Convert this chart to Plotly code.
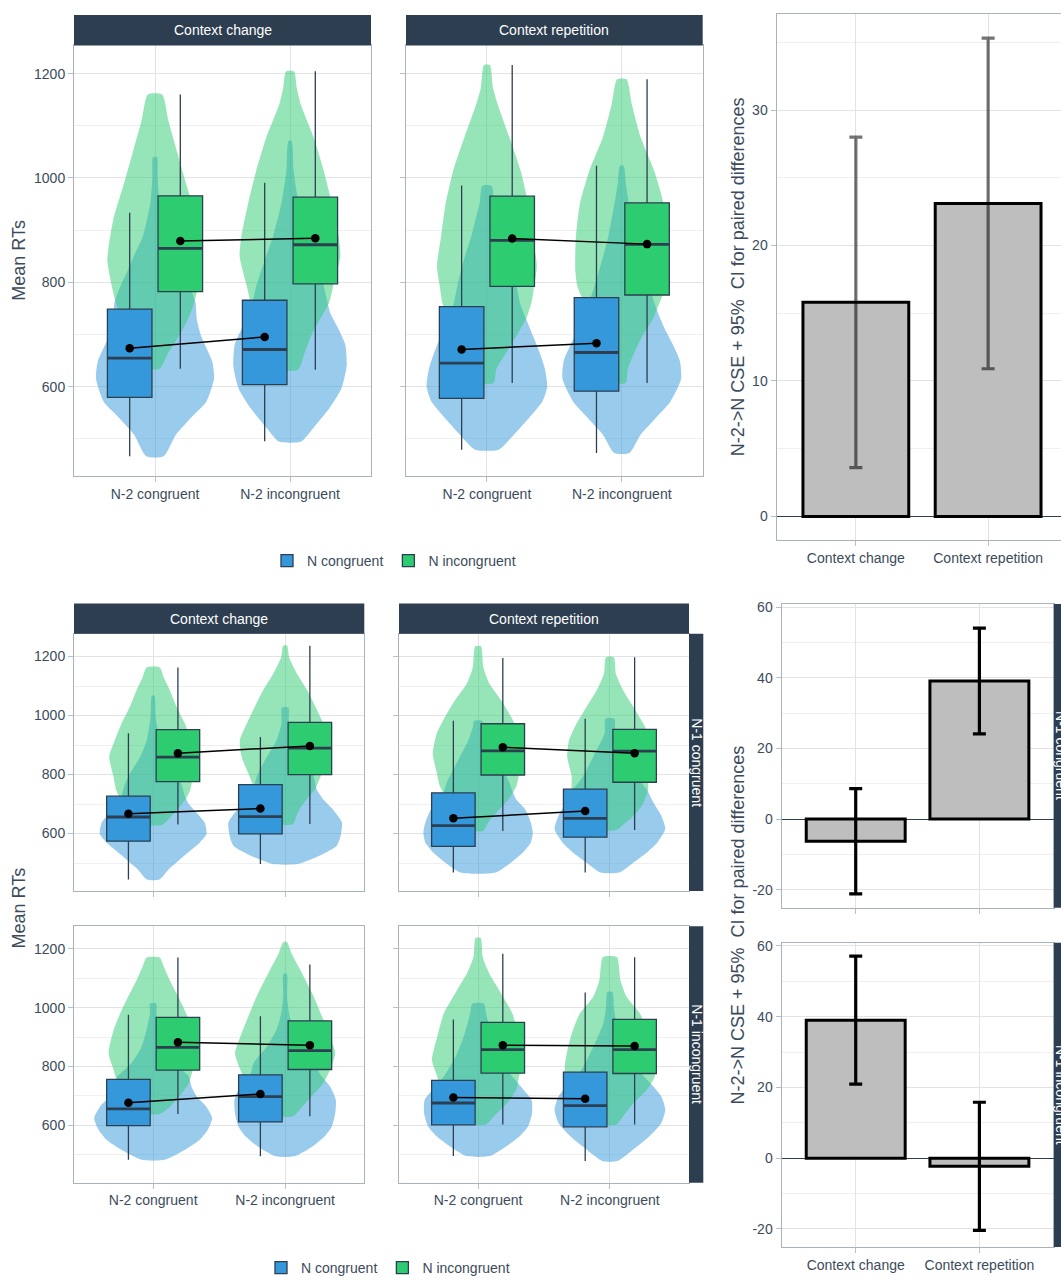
import plotly.graph_objects as go

# ------------------------------------------------------------------
# Factor levels / labels
# ------------------------------------------------------------------
n2_levels = ["N-2 congruent", "N-2 incongruent"]
n_levels = ["N congruent", "N incongruent"]
contexts = ["Context change", "Context repetition"]
n1_levels = ["N-1 congruent", "N-1 incongruent"]

# ------------------------------------------------------------------
# Box-plot summaries of mean RTs (ms)
# rows: all CC, all CR, N-1 cong CC, N-1 cong CR, N-1 incong CC, N-1 incong CR
# columns: N-2 congruent, N-2 incongruent
# ------------------------------------------------------------------
ncong_q1 = [[579.4, 604.1], [577.5, 591.4], [574.2, 598.8], [556.4, 587.6], [599.3, 611.7], [601.6, 594.8]]
ncong_med = [[654.7, 671.2], [645.2, 665.5], [656.0, 657.0], [627.0, 651.5], [655.7, 697.4], [676.0, 666.9]]
ncong_q3 = [[748.5, 765.6], [753.5, 770.6], [726.7, 766.0], [738.1, 750.3], [756.0, 771.7], [752.6, 780.8]]
ncong_lo = [[466.6, 495.2], [479.3, 473.0], [444.0, 496.7], [467.6, 467.6], [483.2, 494.5], [495.6, 478.7]]
ncong_hi = [[933.4, 991.0], [985.3, 1023.3], [939.8, 927.4], [982.4, 989.0], [975.7, 971.2], [960.0, 1051.2]]
ncong_mean = [[673.7, 695.3], [671.2, 683.2], [667.2, 685.0], [651.8, 676.2], [677.0, 706.4], [695.0, 690.6]]

nincong_q1 = [[782.0, 797.2], [792.2, 775.7], [776.0, 799.6], [798.5, 773.8], [787.5, 789.8], [777.4, 776.2]]
nincong_med = [[865.0, 872.0], [880.2, 872.6], [859.0, 889.3], [880.3, 879.2], [865.3, 854.0], [857.4, 857.4]]
nincong_q3 = [[965.7, 963.1], [965.0, 952.4], [952.1, 976.8], [972.3, 953.3], [966.7, 955.4], [949.8, 960.0]]
nincong_lo = [[634.5, 632.6], [607.2, 607.2], [630.2, 632.4], [609.0, 612.3], [638.8, 630.9], [602.7, 602.7]]
nincong_hi = [[1160.0, 1204.4], [1216.5, 1189.2], [1163.0, 1237.0], [1195.5, 1197.8], [1170.7, 1147.0], [1183.0, 1171.8]]
nincong_mean = [[879.0, 884.6], [884.0, 873.2], [872.5, 897.2], [892.7, 872.5], [882.2, 872.0], [872.0, 869.8]]

# ------------------------------------------------------------------
# Violin density profiles: (RT, half-width in category units)
# order in each panel: N cong @ N-2 cong, N cong @ N-2 incong,
#                      N incong @ N-2 cong, N incong @ N-2 incong
# ------------------------------------------------------------------
violins_all_cc = [
    [(466.6, 0.064), (508, 0.155), (540, 0.265), (571, 0.38), (615, 0.437), (647, 0.425), (698, 0.34),
     (729, 0.31), (761, 0.30), (790, 0.26), (824, 0.20), (860, 0.14), (888, 0.09), (951, 0.035),
     (1000, 0.02), (1040, 0.015)],
    [(495, 0.083), (520, 0.17), (558, 0.29), (596, 0.38), (640, 0.42), (680, 0.41), (710, 0.36),
     (740, 0.30), (770, 0.27), (793, 0.25), (840, 0.19), (888, 0.126), (951, 0.064), (1014, 0.027),
     (1071, 0.012)],
    [(634.5, 0.035), (666, 0.10), (698, 0.18), (730, 0.245), (761, 0.29), (793, 0.32), (843, 0.353),
     (919, 0.31), (983, 0.237), (1046, 0.168), (1109, 0.10), (1160, 0.053)],
    [(632.6, 0.06), (666, 0.11), (698, 0.158), (729, 0.22), (761, 0.29), (793, 0.32), (850, 0.373),
     (888, 0.36), (951, 0.31), (1014, 0.25), (1078, 0.175), (1141, 0.08), (1173, 0.05), (1204, 0.03)],
]
violins_all_cr = [
    [(479.3, 0.087), (508, 0.2), (539.5, 0.31), (571, 0.41), (600, 0.447), (634.5, 0.43), (666, 0.39),
     (698, 0.34), (730, 0.29), (761, 0.245), (793, 0.22), (825, 0.19), (857, 0.155), (888, 0.116),
     (920, 0.085), (951, 0.054), (985, 0.035)],
    [(473, 0.056), (508, 0.14), (539.5, 0.25), (571, 0.36), (615, 0.44), (650, 0.43), (680, 0.38),
     (710, 0.32), (740, 0.27), (770, 0.23), (825, 0.165), (888, 0.10), (951, 0.054), (990, 0.03),
     (1023, 0.015)],
    [(607, 0.05), (634.5, 0.07), (666, 0.145), (698, 0.22), (730, 0.29), (761, 0.33), (793, 0.35),
     (831, 0.37), (888, 0.34), (951, 0.306), (1014, 0.25), (1078, 0.167), (1141, 0.08), (1173, 0.045),
     (1216.5, 0.022)],
    [(607, 0.03), (634.5, 0.045), (666, 0.094), (698, 0.155), (729.5, 0.23), (761, 0.28), (793, 0.33),
     (824.5, 0.345), (888, 0.34), (951, 0.31), (1014, 0.24), (1078, 0.14), (1141, 0.075), (1189, 0.035)],
]
violins_n1c_cc = [
    [(444, 0.047), (480, 0.12), (525, 0.235), (570, 0.354), (598, 0.404), (637, 0.39), (670, 0.33),
     (700, 0.27), (727, 0.24), (760, 0.22), (803, 0.177), (859, 0.10), (915, 0.05), (994, 0.02),
     (1067, 0.01)],
    [(496.7, 0.095), (525, 0.26), (558, 0.39), (592, 0.42), (637, 0.43), (682, 0.36), (715, 0.29),
     (749, 0.24), (792, 0.217), (859, 0.14), (915, 0.066), (971, 0.028), (1027, 0.025)],
    [(630, 0.07), (660, 0.14), (691, 0.20), (720, 0.25), (747, 0.28), (792, 0.30), (861, 0.333),
     (917, 0.29), (973, 0.24), (1030, 0.177), (1086, 0.126), (1130, 0.08), (1163, 0.05)],
    [(632, 0.06), (665, 0.09), (693, 0.124), (720, 0.17), (749, 0.225), (805, 0.28), (861, 0.33),
     (917, 0.343), (973, 0.29), (1030, 0.23), (1086, 0.167), (1142, 0.09), (1198, 0.03), (1237, 0.015)],
]
violins_n1c_cr = [
    [(467.6, 0.133), (502, 0.25), (536, 0.34), (570, 0.40), (603, 0.415), (637, 0.40), (682, 0.357),
     (715, 0.29), (749, 0.255), (771, 0.24), (815, 0.19), (861, 0.137), (917, 0.073), (960, 0.04),
     (982, 0.03)],
    [(467.6, 0.07), (502, 0.18), (536, 0.28), (570, 0.36), (615, 0.42), (660, 0.39), (705, 0.33),
     (749, 0.28), (790, 0.21), (861, 0.126), (940, 0.04), (989, 0.035)],
    [(609, 0.04), (640, 0.08), (671, 0.14), (715, 0.23), (760, 0.29), (805, 0.313), (872, 0.344),
     (940, 0.313), (996, 0.25), (1052, 0.175), (1108, 0.086), (1164, 0.04), (1235, 0.022)],
    [(612, 0.05), (637, 0.12), (670, 0.2), (700, 0.25), (749, 0.29), (794, 0.29), (861, 0.324),
     (917, 0.31), (973, 0.253), (1030, 0.177), (1086, 0.1), (1142, 0.045), (1198, 0.03)],
]
violins_n1i_cc = [
    [(483.2, 0.088), (518, 0.245), (552, 0.355), (586, 0.415), (625, 0.447), (665, 0.40), (698, 0.33),
     (732, 0.29), (766, 0.27), (811, 0.164), (867, 0.088), (924, 0.05), (980, 0.025), (1014, 0.023)],
    [(494.5, 0.07), (529, 0.21), (563, 0.30), (597, 0.355), (642, 0.38), (687, 0.384), (732, 0.34),
     (777, 0.26), (811, 0.24), (867, 0.14), (924, 0.066), (980, 0.03), (1037, 0.015), (1115, 0.013)],
    [(638.8, 0.05), (660, 0.12), (698.5, 0.20), (744, 0.27), (789, 0.30), (845, 0.338), (924, 0.30),
     (980, 0.25), (1037, 0.19), (1093, 0.126), (1140, 0.08), (1170.7, 0.05)],
    [(630.9, 0.06), (653, 0.11), (698.5, 0.2), (744, 0.29), (789, 0.34), (845, 0.38), (901, 0.34),
     (958, 0.29), (1037, 0.217), (1127, 0.116), (1183, 0.05), (1222.5, 0.015)],
]
violins_n1i_cr = [
    [(495.6, 0.088), (529, 0.215), (563, 0.315), (597, 0.38), (642, 0.41), (687, 0.405), (721, 0.345),
     (766, 0.26), (834, 0.17), (901, 0.11), (980, 0.06), (1014, 0.045)],
    [(478.7, 0.057), (518, 0.177), (563, 0.30), (608, 0.39), (653, 0.42), (698, 0.39), (732, 0.33),
     (789, 0.215), (867, 0.126), (946, 0.05), (1000, 0.03), (1053, 0.02)],
    [(602.7, 0.06), (631, 0.12), (676, 0.22), (721, 0.29), (766, 0.31), (822.5, 0.35), (901, 0.31),
     (980, 0.26), (1059, 0.16), (1115, 0.086), (1172, 0.035), (1237, 0.02)],
    [(602.7, 0.05), (631, 0.1), (676, 0.18), (721, 0.28), (766, 0.34), (811, 0.34), (867, 0.316),
     (924, 0.28), (980, 0.228), (1037, 0.126), (1093, 0.08), (1172, 0.053)],
]

# ------------------------------------------------------------------
# N-2 -> N congruency sequence effects with 95% CI half-widths
# ------------------------------------------------------------------
cse_all = [15.8, 23.1]
ci_all = [12.2, 12.2]
cse_n1_cong = [-6.3, 39.1]
ci_n1_cong = [14.9, 15.0]
cse_n1_incong = [39.0, -2.3]
ci_n1_incong = [18.1, 18.1]

# ------------------------------------------------------------------
# Styling / geometry
# ------------------------------------------------------------------
W, H = 1061, 1284
FONT = "Liberation Sans, Arial, sans-serif"
DARK = "#2c3e50"
TEXT = "#3b4b5c"
BLUE = "#3498db"
GREEN = "#2ecc71"
BLUE_V = "rgba(52,152,219,0.5)"
GREEN_V = "rgba(46,204,113,0.5)"
GRID = "#e3e3e3"
GRID_MINOR = "#efefef"
BORDER = "#aab3bd"
TICK = "#b9c0c8"
DODGE = 0.1875
BOX_W = 0.33


def fx(p):
    return p / W


def fy(p):
    return 1 - p / H


def ax_name(k, letter):
    return letter + ("" if k == 1 else str(k))


def layout_key(k, letter):
    return letter + "axis" + ("" if k == 1 else str(k))


tick_style = dict(ticks="outside", ticklen=5, tickwidth=1, tickcolor=TICK,
                  tickfont=dict(size=14, color=TEXT))

panel_px = [
    (74.0, 371.0, 40.7, 474.5),
    (406.0, 702.7, 40.7, 474.5),
    (74.0, 364.3, 633.3, 892.3),
    (399.0, 689.0, 633.3, 892.3),
    (74.0, 364.3, 927.7, 1186.0),
    (399.0, 689.0, 927.7, 1186.0),
]
panel_yrange = [[428.5, 1254.0]] * 2 + [[405.0, 1277.0]] * 4
panel_show_y = [True, False, True, False, True, False]
panel_show_x = [True, True, False, False, True, True]
panel_legend = ["legend", None, "legend2", None, None, None]
violin_sets = [violins_all_cc, violins_all_cr, violins_n1c_cc, violins_n1c_cr,
               violins_n1i_cc, violins_n1i_cr]

fig = go.Figure()
layout_axes = {}

for i in range(6):
    k = i + 1
    ov = i + 7
    xr = ax_name(k, "x")
    yr = ax_name(k, "y")
    yov = ax_name(ov, "y")
    l, r, t, b = panel_px[i]

    # violins (base layer)
    for idx, prof in enumerate(violin_sets[i]):
        center = 1 + (idx % 2)
        ys = [v for v, w in prof]
        ws = [w for v, w in prof]
        xs = [center + w for w in ws] + [center - w for w in reversed(ws)]
        yy = ys + list(reversed(ys))
        xs.append(xs[0])
        yy.append(yy[0])
        fig.add_trace(go.Scatter(
            x=xs, y=yy, mode="lines", fill="toself",
            fillcolor=BLUE_V if idx < 2 else GREEN_V,
            line=dict(width=0, shape="spline", smoothing=0.6),
            showlegend=False, hoverinfo="skip", xaxis=xr, yaxis=yr))

    # boxes (overlay layer)
    stats = [
        (n_levels[0], -DODGE, BLUE, ncong_q1, ncong_med, ncong_q3, ncong_lo, ncong_hi),
        (n_levels[1], DODGE, GREEN, nincong_q1, nincong_med, nincong_q3, nincong_lo, nincong_hi),
    ]
    for name, off, col, q1, med, q3, lo, hi in stats:
        pos = [1 + off, 2 + off]
        kw = {}
        if panel_legend[i]:
            kw["legend"] = panel_legend[i]
        fig.add_trace(go.Box(
            x=pos, q1=q1[i], median=med[i], q3=q3[i], lowerfence=lo[i], upperfence=hi[i],
            width=BOX_W, fillcolor=col, line=dict(color=DARK, width=1.3), whiskerwidth=0,
            boxpoints=False, orientation="v", name=name,
            showlegend=panel_legend[i] is not None, xaxis=xr, yaxis=yov, **kw))
        mx, my = [], []
        for p, m in zip(pos, med[i]):
            mx += [p - BOX_W / 2, p + BOX_W / 2, None]
            my += [m, m, None]
        fig.add_trace(go.Scatter(
            x=mx, y=my, mode="lines", line=dict(color=DARK, width=2.8),
            showlegend=False, hoverinfo="skip", xaxis=xr, yaxis=yov))

    for off, means in [(-DODGE, ncong_mean), (DODGE, nincong_mean)]:
        fig.add_trace(go.Scatter(
            x=[1 + off, 2 + off], y=means[i], mode="lines+markers",
            line=dict(color="black", width=1.5), marker=dict(color="black", size=8.5),
            showlegend=False, xaxis=xr, yaxis=yov))

    layout_axes[layout_key(k, "x")] = dict(
        domain=[fx(l), fx(r)], anchor=yr, range=[0.4, 2.6],
        tickvals=[1, 2], ticktext=n2_levels, showticklabels=panel_show_x[i],
        showgrid=True, gridcolor=GRID, gridwidth=1, zeroline=False,
        showline=True, mirror=True, linecolor=BORDER, linewidth=1,
        fixedrange=True, **tick_style)
    layout_axes[layout_key(k, "y")] = dict(
        domain=[fy(b), fy(t)], anchor=xr, range=panel_yrange[i],
        tick0=0, dtick=200, showticklabels=panel_show_y[i],
        showgrid=True, gridcolor=GRID, gridwidth=1, zeroline=False,
        minor=dict(dtick=100, tick0=0, showgrid=True, gridcolor=GRID_MINOR, gridwidth=0.8),
        showline=True, mirror=True, linecolor=BORDER, linewidth=1,
        fixedrange=True, **tick_style)
    layout_axes[layout_key(ov, "y")] = dict(
        overlaying=yr, anchor=xr, range=panel_yrange[i], visible=False,
        showgrid=False, zeroline=False, fixedrange=True)

# ------------------------------------------------------------------
# CSE bar panels
# ------------------------------------------------------------------
bar_specs = [
    (13, (776.5, 1061.0, 9.3, 539.1), cse_all, ci_all, [-1.765, 37.07], [0, 10, 20, 30], 5,
     "rgba(0,0,0,0.55)", True, [0.4, 2.551], False),
    (14, (781.5, 1053.6, 603.3, 909.0), cse_n1_cong, ci_n1_cong, [-25.1, 60.9],
     [-20, 0, 20, 40, 60], 10, "black", False, [0.4, 2.6], True),
    (15, (781.5, 1053.6, 944.3, 1250.7), cse_n1_incong, ci_n1_incong, [-25.1, 60.9],
     [-20, 0, 20, 40, 60], 10, "black", True, [0.4, 2.6], True),
]
for k, (l, r, t, b), vals, ci, yrng, yt, minor_dt, ecol, showx, xrng, ymirror in bar_specs:
    xr = ax_name(k, "x")
    yr = ax_name(k, "y")
    fig.add_trace(go.Bar(
        x=[1, 2], y=vals, width=0.8,
        marker=dict(color="#bebebe", line=dict(color="black", width=3)),
        error_y=dict(type="data", array=ci, color=ecol, thickness=3.2, width=6.5),
        showlegend=False, xaxis=xr, yaxis=yr))
    layout_axes[layout_key(k, "x")] = dict(
        domain=[fx(l), min(1.0, fx(r))], anchor=yr, range=xrng,
        tickvals=[1, 2], ticktext=contexts, showticklabels=showx,
        showgrid=True, gridcolor=GRID, gridwidth=1, zeroline=False,
        showline=True, mirror=True, linecolor=BORDER, linewidth=1,
        fixedrange=True, **tick_style)
    layout_axes[layout_key(k, "y")] = dict(
        domain=[fy(b), fy(t)], anchor=xr, range=yrng,
        tickvals=yt, ticktext=[str(v) for v in yt],
        showgrid=True, gridcolor=GRID, gridwidth=1,
        minor=dict(dtick=minor_dt, tick0=0, showgrid=True, gridcolor=GRID_MINOR, gridwidth=0.8),
        zeroline=True, zerolinecolor=DARK, zerolinewidth=1.2,
        showline=True, mirror=ymirror, linecolor=BORDER, linewidth=1,
        fixedrange=True, **tick_style)

# ------------------------------------------------------------------
# Facet strips and axis titles
# ------------------------------------------------------------------
shapes = []
annotations = []


def strip(x0, x1, y0, y1, text, angle=0):
    shapes.append(dict(type="rect", xref="paper", yref="paper",
                       x0=fx(x0), x1=fx(x1), y0=fy(y1), y1=fy(y0),
                       fillcolor=DARK, line=dict(width=0), layer="above"))
    annotations.append(dict(xref="paper", yref="paper", x=fx((x0 + x1) / 2), y=fy((y0 + y1) / 2),
                            text=text, showarrow=False, textangle=angle,
                            xanchor="center", yanchor="middle",
                            font=dict(size=14, color="white")))


strip(74.0, 371.0, 10.0, 40.7, contexts[0])
strip(406.0, 702.7, 10.0, 40.7, contexts[1])
strip(74.0, 364.3, 602.7, 633.3, contexts[0])
strip(399.0, 689.0, 602.7, 633.3, contexts[1])
strip(689.0, 703.3, 633.3, 892.3, n1_levels[0], 90)
strip(689.0, 703.3, 927.7, 1186.0, n1_levels[1], 90)
strip(1053.6, 1068.0, 603.3, 909.0, n1_levels[0], 90)
strip(1053.6, 1068.0, 944.3, 1250.7, n1_levels[1], 90)

for (xp, yp, txt) in [(19, 257.6, "Mean RTs"), (19, 909.8, "Mean RTs"),
                      (738, 274.2, "N-2->N CSE + 95%  CI for paired differences"),
                      (738, 927.0, "N-2->N CSE + 95%  CI for paired differences")]:
    annotations.append(dict(xref="paper", yref="paper", x=fx(xp), y=fy(yp), text=txt,
                            showarrow=False, textangle=-90, xanchor="center", yanchor="middle",
                            font=dict(size=18, color=TEXT)))

legend_style = dict(orientation="h", xanchor="center", yanchor="middle",
                    font=dict(size=14, color=TEXT), bgcolor="rgba(0,0,0,0)",
                    itemclick=False, itemdoubleclick=False)

fig.update_layout(
    width=W, height=H, margin=dict(l=0, r=0, t=0, b=0),
    paper_bgcolor="white", plot_bgcolor="white",
    font=dict(family=FONT, color=TEXT),
    boxmode="overlay", barmode="overlay",
    shapes=shapes, annotations=annotations,
    legend=dict(x=fx(394), y=fy(560), **legend_style),
    legend2=dict(x=fx(388), y=fy(1272), **legend_style),
    **layout_axes,
)

fig.write_html("out.html")
